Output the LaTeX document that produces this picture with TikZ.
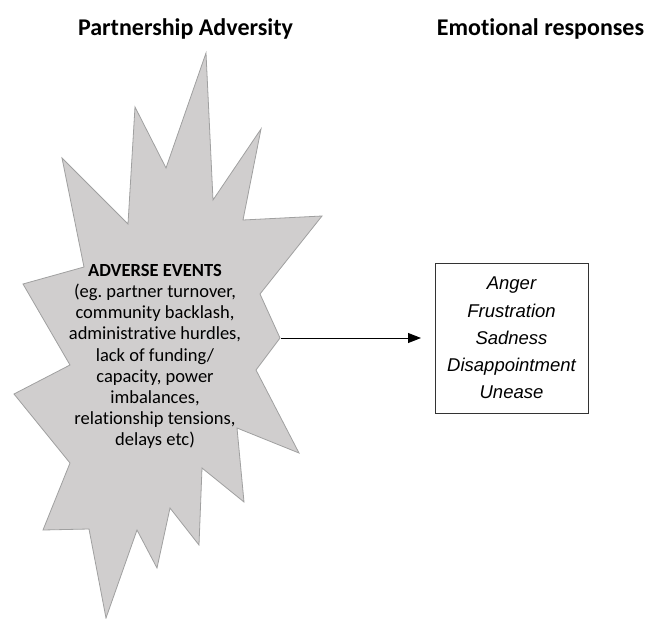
\documentclass[tikz,border=0pt]{standalone}
\usepackage{fontspec}
\setmainfont{Carlito}[Ligatures=NoCommon]
\newfontfamily\arialfont{Liberation Sans}
\usetikzlibrary{arrows.meta}
\frenchspacing
\definecolor{burstfill}{RGB}{208,206,206}
\definecolor{burstline}{RGB}{160,160,160}
\tikzset{
  heading/.style={font=\fontsize{24}{28}\selectfont\bfseries, anchor=base, inner sep=0pt},
  bursttext/.style={align=center, font=\fontsize{18.5}{21.2}\selectfont, inner sep=0pt, anchor=north},
  emobox/.style={draw=black!80, line width=0.8pt, minimum width=153pt, minimum height=150pt,
    align=center, font=\arialfont\itshape\fontsize{18.5}{27.2}\selectfont, inner sep=0pt},
  link/.style={draw=black, line width=0.9pt, -{Triangle[length=13pt,width=10pt]}}
}
\begin{document}
\begin{tikzpicture}[x=1pt,y=-1pt]
\useasboundingbox (0,0) rectangle (649,619);
% column headings
\node[heading] (h1) at (185.5,35) {Partnership Adversity};
\node[heading] (h2) at (540.5,35) {Emotional responses};
% starburst outline
\filldraw[fill=burstfill, draw=burstline, line width=0.8pt, line join=miter]
  (206,53) -- (213,200) -- (261,129) -- (243,220) -- (322,216) -- (260,294)
  -- (280,338) -- (256,370) -- (299,453) -- (237,428) -- (244,502) -- (202,468)
  -- (199,545) -- (170,508) -- (157,568) -- (137,530) -- (106,618) -- (89,529)
  -- (43,530) -- (70,463) -- (14,394) -- (70,365) -- (23,284) -- (84,267)
  -- (62,158) -- (128,224) -- (135,107) -- (166,168) -- cycle;
\coordinate (bursttip) at (281,338);
\node[bursttext] (events) at (155,264) {\textbf{ADVERSE EVENTS}\\(eg. partner turnover,\\community backlash,\\administrative hurdles,\\lack of funding/\\capacity, power\\imbalances,\\relationship tensions,\\delays etc)};
% emotional responses
\node[emobox] (emotions) at (511.5,338) {Anger\\Frustration\\Sadness\\Disappointment\\Unease};
\coordinate (arrowend) at (421,338);
\draw[link] (bursttip) -- (arrowend);
\end{tikzpicture}
\end{document}
